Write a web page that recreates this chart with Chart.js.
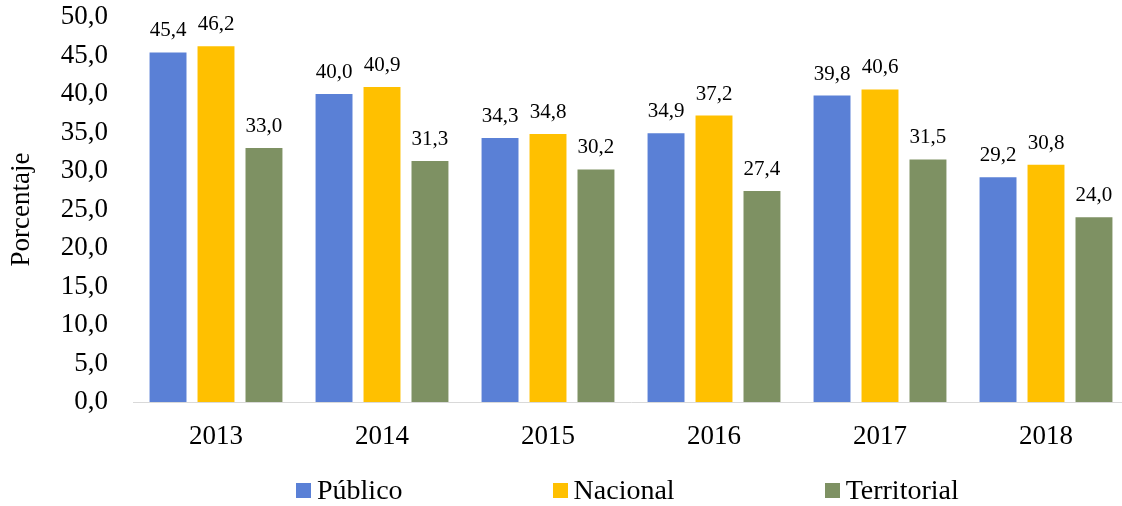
<!DOCTYPE html>
<html>
<head>
<meta charset="utf-8">
<script src="https://cdn.jsdelivr.net/npm/chart.js@4/dist/chart.umd.min.js"></script>
<style>
  html, body { margin: 0; padding: 0; background: #fff; overflow: hidden; width: 1122px; height: 506px; }
  #wrap { position: relative; width: 1122px; height: 506px; overflow: hidden; }
  #c { position: absolute; left: 0; top: 0; }
  #legend { position: absolute; left: 296px; top: 475px; display: flex; align-items: center;
            font-family: 'Liberation Serif', 'Times New Roman', serif; font-size: 28px; line-height: 30px; color: #000; }
  .item { display: flex; align-items: center; margin-right: 150px; }
  .sw { width: 15px; height: 15px; margin-right: 6px; }
</style>
</head>
<body>
<div id="wrap">
  <canvas id="c" width="1132" height="506"></canvas>
  <div id="legend"></div>
</div>
<script>
// Años y porcentajes por sector
const years = ['2013', '2014', '2015', '2016', '2017', '2018'];
const publico = [45.4, 40.0, 34.3, 34.9, 39.8, 29.2];
const nacional = [46.2, 40.9, 34.8, 37.2, 40.6, 30.8];
const territorial = [33.0, 31.3, 30.2, 27.4, 31.5, 24.0];
const seriesNames = ['Público', 'Nacional', 'Territorial'];
const seriesColors = ['#5A80D6', '#FFC000', '#7E9163'];
const yMin = 0, yMax = 50, yStep = 5;
const yTitle = 'Porcentaje';

const FONT = "'Liberation Serif', 'Times New Roman', serif";
const fmt = v => v.toFixed(1).replace('.', ',');

// Valores sobre cada barra
const valueLabels = {
  id: 'valueLabels',
  afterDatasetsDraw(chart) {
    const ctx = chart.ctx;
    ctx.save();
    ctx.font = '21px ' + FONT;
    ctx.fillStyle = '#000';
    ctx.textAlign = 'center';
    ctx.textBaseline = 'alphabetic';
    chart.data.datasets.forEach((ds, i) => {
      chart.getDatasetMeta(i).data.forEach((bar, j) => {
        ctx.fillText(fmt(ds.data[j]), bar.x, bar.y - 16);
      });
    });
    ctx.restore();
  }
};

const allSeries = [publico, nacional, territorial];

new Chart(document.getElementById('c'), {
  type: 'bar',
  data: {
    labels: years,
    datasets: allSeries.map((d, i) => ({
      label: seriesNames[i],
      data: d,
      backgroundColor: seriesColors[i],
      borderWidth: 0,
      barPercentage: 0.77,
      categoryPercentage: 0.867
    }))
  },
  options: {
    responsive: false,
    animation: false,
    devicePixelRatio: 1,
    layout: { padding: { top: 17, right: 3, bottom: 0, left: 0 } },
    plugins: {
      legend: { display: false },
      tooltip: { enabled: false }
    },
    scales: {
      x: {
        grid: { display: true, drawOnChartArea: false, drawTicks: false },
        border: { display: true, color: '#D9D9D9', width: 1 },
        ticks: { color: '#000', font: { family: FONT, size: 27 }, padding: 19, maxRotation: 0 },
        afterFit(scale) { scale.height = 104; }
      },
      y: {
        min: yMin, max: yMax,
        grid: { display: false, drawTicks: false },
        border: { display: false },
        ticks: { stepSize: yStep, color: '#000', font: { family: FONT, size: 27 }, padding: 25,
                 callback: v => fmt(v) },
        title: { display: true, text: yTitle, color: '#000', font: { family: FONT, size: 27 },
                 padding: { top: 6, bottom: 0 } },
        afterFit(scale) {
          scale.width = 133;
          scale.paddingTop = 0;
          scale.paddingBottom = 0;
        }
      }
    }
  },
  plugins: [valueLabels]
});

// Leyenda
const legend = document.getElementById('legend');
seriesNames.forEach((name, i) => {
  const item = document.createElement('div');
  item.className = 'item';
  const sw = document.createElement('span');
  sw.className = 'sw';
  sw.style.background = seriesColors[i];
  const txt = document.createElement('span');
  txt.textContent = name;
  item.appendChild(sw);
  item.appendChild(txt);
  legend.appendChild(item);
});
</script>
</body>
</html>
